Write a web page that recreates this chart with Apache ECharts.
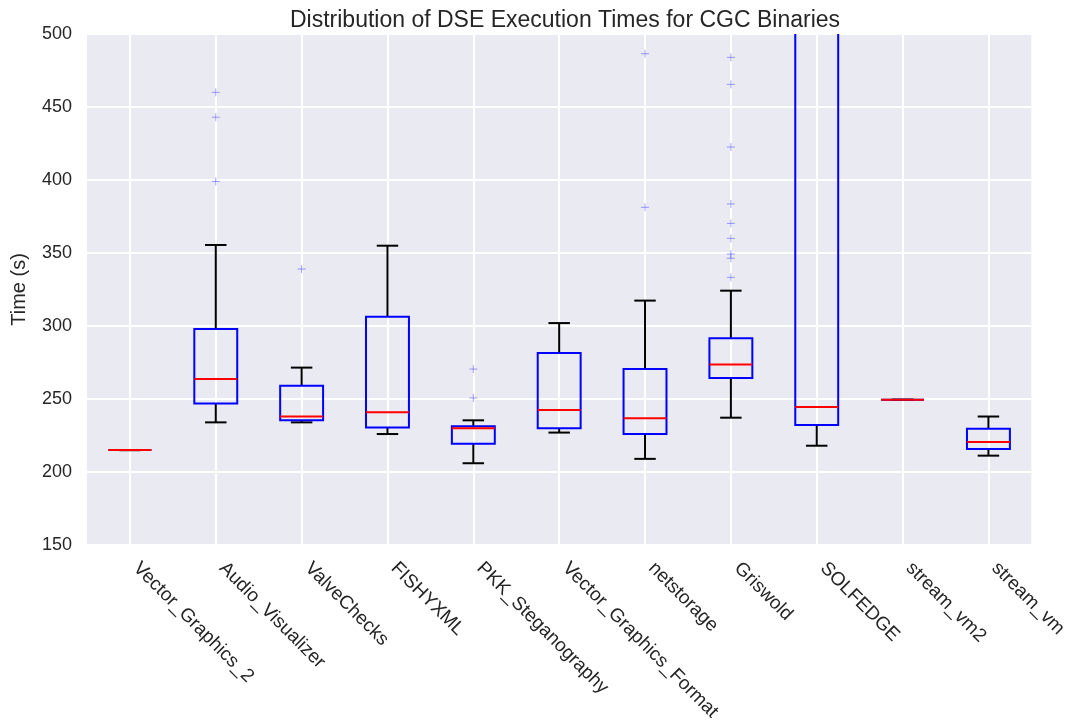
<!DOCTYPE html>
<html>
<head>
<meta charset="utf-8">
<script src="https://cdn.jsdelivr.net/npm/echarts@6/dist/echarts.min.js"></script>
<style>
  html, body { margin: 0; padding: 0; background: #fff; }
  #main { width: 1070px; height: 726px; }
</style>
</head>
<body>
<div id="main"></div>
<script>
var categories = ['Vector_Graphics_2', 'Audio_Visualizer', 'ValveChecks', 'FISHYXML',
  'PKK_Steganography', 'Vector_Graphics_Format', 'netstorage', 'Griswold',
  'SOLFEDGE', 'stream_vm2', 'stream_vm'];

// whisker low, q1, median, q3, whisker high
var lows    = [215,   234,   234,   226,   206,   227,   209,   237.2, 218,   249.5, 211.2];
var q1s     = [215,   247,   235.4, 230.4, 219.4, 230,   226,   264.4, 232.2, 249.5, 215.8];
var medians = [215,   263.7, 238,   241,   230,   242.5, 236.8, 273.7, 244.5, 249.5, 220.5];
var q3s     = [215,   298,   259,   306.4, 231.3, 281.5, 270.5, 291.6, 640,   249.5, 229.7];
var highs   = [215,   355.5, 271.5, 355,   235.4, 302,   317.4, 324.2, 900,   249.5, 238];

// outliers: [category index, value]
var outliers = [
  [1, 460], [1, 443], [1, 399],
  [2, 339],
  [4, 270.5], [4, 250.7],
  [6, 486.5], [6, 381.3],
  [7, 484], [7, 465.5], [7, 422.6], [7, 383.6], [7, 370.3], [7, 360], [7, 349.3], [7, 346.4], [7, 333.3]
];

var yTicks = [150, 200, 250, 300, 350, 400, 450, 500];

var boxData = categories.map(function (c, i) {
  return [i, lows[i], q1s[i], medians[i], q3s[i], highs[i]];
});

function renderBox(params, api) {
  var idx = api.value(0);
  var band = api.size([1, 0])[0];
  var half = band * 0.25;
  var cap = band * 0.125;
  var pLow = api.coord([idx, api.value(1)]);
  var pQ1 = api.coord([idx, api.value(2)]);
  var pMed = api.coord([idx, api.value(3)]);
  var pQ3 = api.coord([idx, api.value(4)]);
  var pHigh = api.coord([idx, api.value(5)]);
  var x = pMed[0];
  var black = { stroke: '#000', lineWidth: 2, fill: null };
  var children = [
    { type: 'line', shape: { x1: x, y1: pQ1[1], x2: x, y2: pLow[1] }, style: black },
    { type: 'line', shape: { x1: x, y1: pQ3[1], x2: x, y2: pHigh[1] }, style: black },
    { type: 'line', shape: { x1: x - cap, y1: pLow[1], x2: x + cap, y2: pLow[1] }, style: black },
    { type: 'line', shape: { x1: x - cap, y1: pHigh[1], x2: x + cap, y2: pHigh[1] }, style: black },
    { type: 'rect', shape: { x: x - half, y: pQ3[1], width: half * 2, height: pQ1[1] - pQ3[1] },
      style: { stroke: '#0000ff', lineWidth: 2, fill: null } },
    { type: 'line', shape: { x1: x - half, y1: pMed[1], x2: x + half, y2: pMed[1] },
      style: { stroke: '#ff0000', lineWidth: 2 } }
  ];
  return { type: 'group', children: children };
}

var myChart = echarts.init(document.getElementById('main'));
var font = 'Liberation Sans, Arial, sans-serif';
var option = {
  backgroundColor: '#ffffff',
  animation: false,
  title: {
    text: 'Distribution of DSE Execution Times for CGC Binaries',
    left: 560,
    textAlign: 'center',
    top: 4,
    textStyle: { fontFamily: font, fontSize: 23, fontWeight: 'normal', color: '#262626' }
  },
  grid: {
    left: 87, right: 37, top: 34, bottom: 181,
    show: true, backgroundColor: '#eaeaf2', borderWidth: 0
  },
  xAxis: {
    type: 'category',
    data: categories,
    boundaryGap: true,
    axisLine: { show: false },
    axisTick: { show: false },
    splitLine: { show: true, alignWithLabel: true, lineStyle: { color: '#ffffff', width: 2 } },
    axisLabel: {
      interval: 0, rotate: -45, margin: 14, padding: [0, 0, 0, 9],
      fontFamily: font, fontSize: 19, color: '#262626'
    }
  },
  yAxis: {
    type: 'value',
    min: 150, max: 500, interval: 50,
    name: 'Time (s)',
    nameLocation: 'middle',
    nameGap: 58,
    nameTextStyle: { fontFamily: font, fontSize: 20, color: '#262626' },
    axisLine: { show: false },
    axisTick: { show: false },
    splitLine: { show: true, lineStyle: { color: '#ffffff', width: 2 } },
    axisLabel: {
      margin: 15, fontFamily: font, fontSize: 18, color: '#262626',
      customValues: yTicks
    }
  },
  series: [
    {
      type: 'custom',
      renderItem: renderBox,
      clip: true,
      encode: { x: 0, y: [1, 2, 3, 4, 5] },
      data: boxData,
      z: 3
    },
    {
      type: 'scatter',
      symbol: 'path://M5,0 L5,10 M0,5 L10,5',
      symbolSize: 8,
      itemStyle: { color: 'none', borderColor: 'rgba(0,0,255,0.45)', borderWidth: 1 },
      data: outliers,
      z: 4
    }
  ]
};
myChart.setOption(option);
</script>
</body>
</html>
